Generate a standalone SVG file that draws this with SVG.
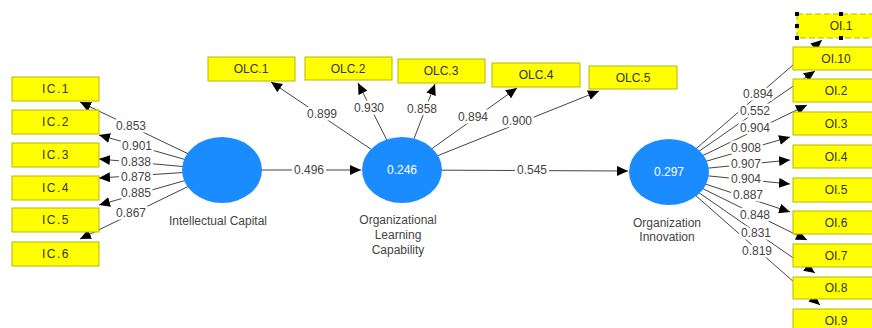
<svg xmlns="http://www.w3.org/2000/svg" width="872" height="328" viewBox="0 0 872 328">
<defs>
<marker id="ah" markerUnits="userSpaceOnUse" markerWidth="12" markerHeight="10" refX="11" refY="5" orient="auto">
<path d="M0,0 L11,5 L0,10 Z" fill="#000"/>
</marker>
<style>
.ln{stroke:#444;stroke-width:1;fill:none;marker-end:url(#ah)}
.lb{font-family:"Liberation Sans",Arial,sans-serif;font-size:12px;fill:#444;text-anchor:middle;dominant-baseline:central;stroke:#fff;stroke-width:5;paint-order:stroke;stroke-linejoin:round}
.box{fill:#ffff00;stroke:#b8b800;stroke-width:1}
.bt{font-family:"Liberation Sans",Arial,sans-serif;font-size:12px;fill:#333;text-anchor:middle;dominant-baseline:central}
.ic{letter-spacing:1.5px}
.lv{fill:#1a8cff}
.lvt{font-family:"Liberation Sans",Arial,sans-serif;font-size:12px;fill:#fff;text-anchor:middle;dominant-baseline:central}
.cap{font-family:"Liberation Sans",Arial,sans-serif;font-size:12px;fill:#444;text-anchor:middle}
.hd{fill:#000}
</style>
</defs>
<rect width="872" height="328" fill="#fff"/>
<g id="connectors">
<line class="ln" x1="222" y1="170" x2="80" y2="102"/>
<line class="ln" x1="222" y1="170" x2="99" y2="135"/>
<line class="ln" x1="222" y1="170" x2="99" y2="159"/>
<line class="ln" x1="222" y1="170" x2="99" y2="178"/>
<line class="ln" x1="222" y1="170" x2="99" y2="205"/>
<line class="ln" x1="222" y1="170" x2="80" y2="239"/>
<line class="ln" x1="222" y1="170" x2="361" y2="170"/>
<line class="ln" x1="402" y1="170" x2="271" y2="82"/>
<line class="ln" x1="402" y1="170" x2="358" y2="83"/>
<line class="ln" x1="402" y1="170" x2="435" y2="84"/>
<line class="ln" x1="402" y1="170" x2="517" y2="88"/>
<line class="ln" x1="402" y1="170" x2="599" y2="91"/>
<line class="ln" x1="402" y1="170" x2="628" y2="171"/>
<line class="ln" x1="669" y1="172" x2="822" y2="40"/>
<line class="ln" x1="669" y1="172" x2="815" y2="71"/>
<line class="ln" x1="669" y1="172" x2="807" y2="105"/>
<line class="ln" x1="669" y1="172" x2="790" y2="137"/>
<line class="ln" x1="669" y1="172" x2="790" y2="160"/>
<line class="ln" x1="669" y1="172" x2="790" y2="184"/>
<line class="ln" x1="669" y1="172" x2="790" y2="212"/>
<line class="ln" x1="669" y1="172" x2="807" y2="240"/>
<line class="ln" x1="669" y1="172" x2="815" y2="273"/>
<line class="ln" x1="669" y1="172" x2="820" y2="305"/>
<text class="lb" x="131" y="126">0.853</text>
<text class="lb" x="137" y="146">0.901</text>
<text class="lb" x="136" y="162">0.838</text>
<text class="lb" x="136" y="177">0.878</text>
<text class="lb" x="136" y="193">0.885</text>
<text class="lb" x="131" y="213">0.867</text>
<text class="lb" x="309" y="170">0.496</text>
<text class="lb" x="322" y="114">0.899</text>
<text class="lb" x="369" y="108">0.930</text>
<text class="lb" x="422" y="109">0.858</text>
<text class="lb" x="473" y="117">0.894</text>
<text class="lb" x="517" y="121">0.900</text>
<text class="lb" x="532" y="170">0.545</text>
<text class="lb" x="758" y="94">0.894</text>
<text class="lb" x="755" y="111">0.552</text>
<text class="lb" x="755" y="128">0.904</text>
<text class="lb" x="746" y="148">0.908</text>
<text class="lb" x="746" y="164">0.907</text>
<text class="lb" x="746" y="179">0.904</text>
<text class="lb" x="748" y="195">0.887</text>
<text class="lb" x="755" y="215">0.848</text>
<text class="lb" x="756" y="233">0.831</text>
<text class="lb" x="757" y="251">0.819</text>
</g>
<g id="IC"><ellipse class="lv" cx="222" cy="170" rx="40" ry="33"/><text class="cap" x="218" y="225">Intellectual Capital</text></g>
<g id="OLC"><ellipse class="lv" cx="402" cy="170" rx="40" ry="33"/><text class="lvt" x="402" y="170">0.246</text><text class="cap" x="398" y="224">Organizational</text><text class="cap" x="398" y="239">Learning</text><text class="cap" x="398" y="254">Capability</text></g>
<g id="OI"><ellipse class="lv" cx="669" cy="172" rx="40" ry="33"/><text class="lvt" x="669" y="172">0.297</text><text class="cap" x="667" y="227">Organization</text><text class="cap" x="667" y="241">Innovation</text></g>
<g id="IC1"><rect class="box" x="12" y="77" width="87" height="24"/><text class="bt ic" x="56" y="89">IC.1</text></g>
<g id="IC2"><rect class="box" x="12" y="110" width="87" height="24"/><text class="bt ic" x="56" y="122">IC.2</text></g>
<g id="IC3"><rect class="box" x="12" y="143" width="87" height="24"/><text class="bt ic" x="56" y="155">IC.3</text></g>
<g id="IC4"><rect class="box" x="12" y="176" width="87" height="24"/><text class="bt ic" x="56" y="188">IC.4</text></g>
<g id="IC5"><rect class="box" x="12" y="208" width="87" height="24"/><text class="bt ic" x="56" y="220">IC.5</text></g>
<g id="IC6"><rect class="box" x="12" y="242" width="87" height="24"/><text class="bt ic" x="56" y="254">IC.6</text></g>
<g id="OLC1"><rect class="box" x="208" y="57" width="87" height="24"/><text class="bt" x="251" y="69">OLC.1</text></g>
<g id="OLC2"><rect class="box" x="305" y="57" width="87" height="23"/><text class="bt" x="348" y="68.5">OLC.2</text></g>
<g id="OLC3"><rect class="box" x="398" y="59" width="87" height="24"/><text class="bt" x="441" y="71">OLC.3</text></g>
<g id="OLC4"><rect class="box" x="492" y="63" width="88" height="24"/><text class="bt" x="536" y="75">OLC.4</text></g>
<g id="OLC5"><rect class="box" x="589" y="66" width="88" height="23"/><text class="bt" x="633" y="77.5">OLC.5</text></g>
<g id="OI1"><rect class="box" x="797" y="14" width="87" height="24" stroke="#000" stroke-dasharray="6,3"/><text class="bt" x="841" y="26">OI.1</text><rect class="hd" x="795" y="12" width="4" height="4"/><rect class="hd" x="839" y="12" width="4" height="4"/><rect class="hd" x="795" y="24" width="4" height="4"/><rect class="hd" x="795" y="36" width="4" height="4"/><rect class="hd" x="839" y="36" width="4" height="4"/></g>
<g id="OI10"><rect class="box" x="793" y="47" width="87" height="23"/><text class="bt" x="836" y="58.5">OI.10</text></g>
<g id="OI2"><rect class="box" x="793" y="79" width="87" height="23"/><text class="bt" x="836" y="90.5">OI.2</text></g>
<g id="OI3"><rect class="box" x="793" y="112" width="87" height="23"/><text class="bt" x="836" y="123.5">OI.3</text></g>
<g id="OI4"><rect class="box" x="793" y="145" width="87" height="23"/><text class="bt" x="836" y="156.5">OI.4</text></g>
<g id="OI5"><rect class="box" x="793" y="178" width="87" height="24"/><text class="bt" x="836" y="190">OI.5</text></g>
<g id="OI6"><rect class="box" x="793" y="211" width="87" height="23"/><text class="bt" x="836" y="222.5">OI.6</text></g>
<g id="OI7"><rect class="box" x="793" y="244" width="87" height="23"/><text class="bt" x="836" y="255.5">OI.7</text></g>
<g id="OI8"><rect class="box" x="793" y="277" width="87" height="22"/><text class="bt" x="836" y="288">OI.8</text></g>
<g id="OI9"><rect class="box" x="793" y="309" width="87" height="23"/><text class="bt" x="836" y="320.5">OI.9</text></g>
</svg>
